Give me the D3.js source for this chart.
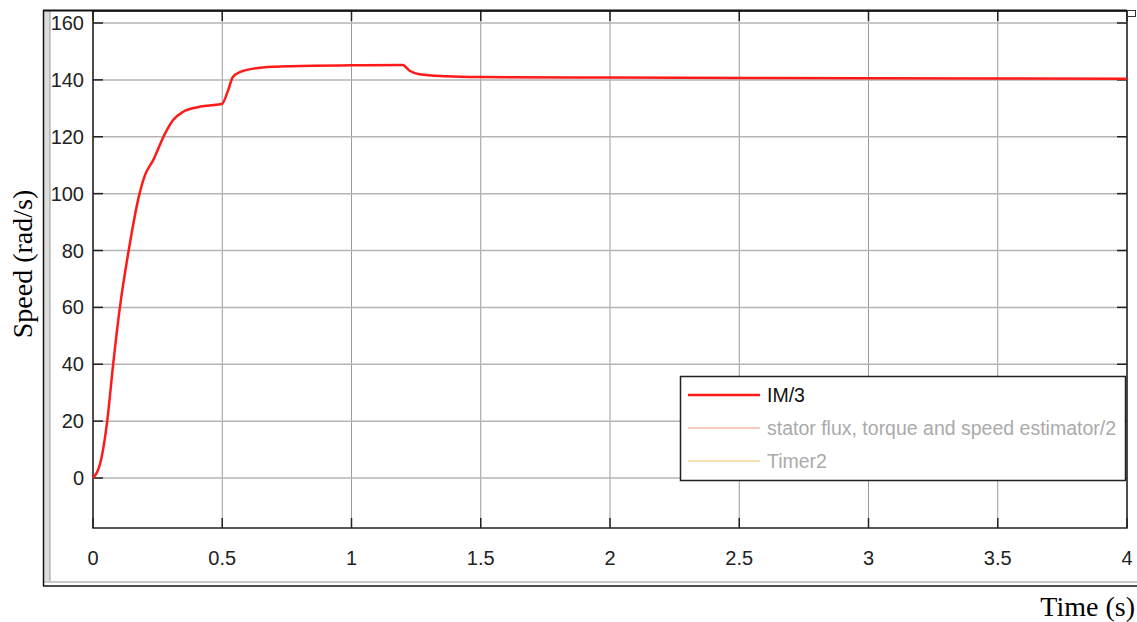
<!DOCTYPE html>
<html>
<head>
<meta charset="utf-8">
<script src="https://cdn.jsdelivr.net/npm/d3@7"></script>
<style>
  body { margin: 0; background: #fff; }
  svg { display: block; }
  .tick-label { font-family: "Liberation Sans", Arial, sans-serif; font-size: 20px; fill: #222; }
  .axis-title { font-family: "Liberation Serif", "Times New Roman", serif; font-size: 28px; fill: #000; }
  .legend-text { font-family: "Liberation Sans", Arial, sans-serif; font-size: 19.5px; }
</style>
</head>
<body>
<div id="chart"></div>
<script>
// speed (t in s, speed in rad/s)
const timeS = [0, 0.031, 0.045, 0.055, 0.078, 0.104, 0.138, 0.18, 0.201, 0.233, 0.279, 0.31, 0.349, 0.40, 0.45, 0.498,
               0.523, 0.541, 0.57, 0.6, 0.7, 0.85, 1.0, 1.198, 1.225, 1.263, 1.366, 1.495, 2.0, 3.0, 4.0];
const speed = [0, 6.3, 13.4, 20, 40, 60, 80, 100, 106.5, 111.8, 121.2, 125.9, 128.8, 130.3, 131, 131.5,
               136.4, 141, 142.8, 143.6, 144.6, 145, 145.1, 145.2, 143.2, 142, 141.3, 141, 140.8, 140.6, 140.4];

const xTicks = [0, 0.5, 1, 1.5, 2, 2.5, 3, 3.5, 4];
const yTicks = [0, 20, 40, 60, 80, 100, 120, 140, 160];

const legendNames = ["IM/3", "stator flux, torque and speed estimator/2", "Timer2"];
const legendColors = ["#ff1a1a", "#f6c9bb", "#f8e2b4"];
const legendTextColors = ["#111", "#aaa", "#aaa"];

const width = 1137, height = 622;
const plot = { left: 93, right: 1127, top: 11, bottom: 528 };

const svg = d3.select("#chart").append("svg")
    .attr("width", width)
    .attr("height", height);

const x = d3.scaleLinear().domain([0, 4]).range([plot.left, plot.right]);
const y = d3.scaleLinear().domain([0, 160]).range([478, 23]);

// outer frame (scope window)
svg.append("rect")
    .attr("x", 44).attr("y", 10)
    .attr("width", 6).attr("height", 573)
    .attr("fill", "#dcdcdc");
svg.append("line")
    .attr("x1", 50).attr("x2", 50).attr("y1", 10).attr("y2", 583)
    .attr("stroke", "#999").attr("stroke-width", 1);
svg.append("line")
    .attr("x1", 44).attr("x2", 1137).attr("y1", 582).attr("y2", 582)
    .attr("stroke", "#c8c8c8").attr("stroke-width", 2);
svg.append("line")
    .attr("x1", 43).attr("x2", 1137).attr("y1", 586).attr("y2", 586)
    .attr("stroke", "#111").attr("stroke-width", 1.5);
svg.append("line")
    .attr("x1", 43.5).attr("x2", 43.5).attr("y1", 10).attr("y2", 586)
    .attr("stroke", "#111").attr("stroke-width", 1.5);

// grid
svg.append("g").selectAll("line").data(xTicks).enter().append("line")
    .attr("x1", d => x(d)).attr("x2", d => x(d))
    .attr("y1", plot.top).attr("y2", plot.bottom)
    .attr("stroke", "#9a9a9a").attr("stroke-width", 1);
svg.append("g").selectAll("line").data(yTicks).enter().append("line")
    .attr("x1", plot.left).attr("x2", plot.right)
    .attr("y1", d => y(d)).attr("y2", d => y(d))
    .attr("stroke", "#b4b4b4").attr("stroke-width", 1.5);

// inward tick marks on all four sides
const tickLen = 10;
const tk = svg.append("g").attr("stroke", "#222").attr("stroke-width", 1.5);
yTicks.forEach(d => {
    tk.append("line").attr("x1", plot.left).attr("x2", plot.left + tickLen).attr("y1", y(d)).attr("y2", y(d));
    tk.append("line").attr("x1", plot.right - tickLen).attr("x2", plot.right).attr("y1", y(d)).attr("y2", y(d));
});
xTicks.forEach(d => {
    tk.append("line").attr("x1", x(d)).attr("x2", x(d)).attr("y1", plot.bottom - tickLen).attr("y2", plot.bottom);
    tk.append("line").attr("x1", x(d)).attr("x2", x(d)).attr("y1", plot.top).attr("y2", plot.top + tickLen);
});

// plot box
svg.append("rect")
    .attr("x", plot.left).attr("y", plot.top)
    .attr("width", plot.right - plot.left).attr("height", plot.bottom - plot.top)
    .attr("fill", "none").attr("stroke", "#222").attr("stroke-width", 1.5);
svg.append("line")
    .attr("x1", 43).attr("x2", plot.right).attr("y1", 10.5).attr("y2", 10.5)
    .attr("stroke", "#111").attr("stroke-width", 2);
svg.append("rect")
    .attr("x", 1127.5).attr("y", 10.5).attr("width", 8).attr("height", 6)
    .attr("fill", "#fff").attr("stroke", "#333").attr("stroke-width", 1);

// tick labels
svg.append("g").selectAll("text").data(yTicks).enter().append("text")
    .attr("class", "tick-label")
    .attr("x", 84).attr("y", d => y(d) + 7)
    .attr("text-anchor", "end")
    .text(d => d);
svg.append("g").selectAll("text").data(xTicks).enter().append("text")
    .attr("class", "tick-label")
    .attr("x", d => x(d)).attr("y", 565)
    .attr("text-anchor", "middle")
    .text(d => d);

// curve
const line = d3.line()
    .x((d, i) => x(timeS[i]))
    .y(d => y(d))
    .curve(d3.curveMonotoneX);
svg.append("path")
    .datum(speed)
    .attr("d", line)
    .attr("fill", "none")
    .attr("stroke", "#ff1a1a")
    .attr("stroke-width", 2.5);

// legend
const lg = svg.append("g");
lg.append("rect")
    .attr("x", 680.5).attr("y", 376.5).attr("width", 445).attr("height", 104)
    .attr("fill", "#fff").attr("stroke", "#222").attr("stroke-width", 1.5);
legendNames.forEach((name, i) => {
    const ly = 395 + i * 33;
    lg.append("line")
        .attr("x1", 688).attr("x2", 760).attr("y1", ly).attr("y2", ly)
        .attr("stroke", legendColors[i]).attr("stroke-width", i == 0 ? 2.5 : 2);
    lg.append("text")
        .attr("class", "legend-text")
        .attr("x", 767).attr("y", ly + 7)
        .attr("fill", legendTextColors[i])
        .text(name);
});

// axis titles
svg.append("text")
    .attr("class", "axis-title")
    .attr("transform", "translate(32,264) rotate(-90)")
    .attr("text-anchor", "middle")
    .text("Speed (rad/s)");
svg.append("text")
    .attr("class", "axis-title")
    .attr("x", 1135).attr("y", 616)
    .attr("text-anchor", "end")
    .text("Time (s)");
</script>
</body>
</html>
